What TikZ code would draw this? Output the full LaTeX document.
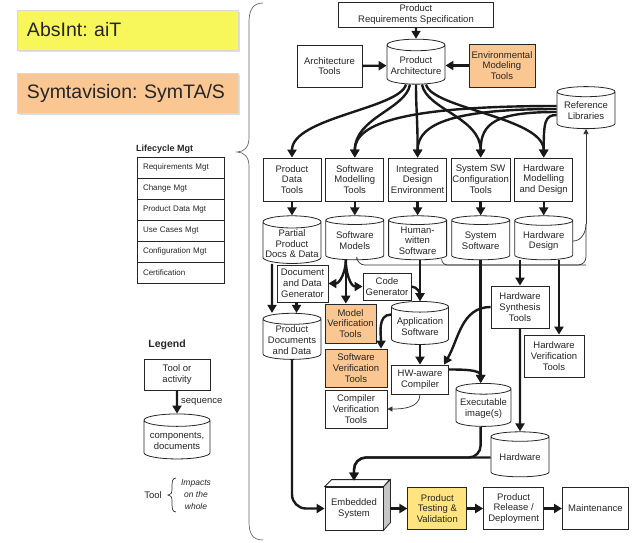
\documentclass[tikz,border=0pt]{standalone}
\usepackage{fontspec}
\setmainfont{Liberation Sans}
\usetikzlibrary{arrows.meta, positioning, shapes.geometric, shadows}
\newcommand{\df}{\fontsize{9.5}{10.8}\selectfont}
\definecolor{toolorange}{HTML}{FAC793}
\definecolor{aityellow}{HTML}{F7F65A}
\definecolor{testyellow}{HTML}{FFE480}
\frenchspacing

\begin{document}
\begin{tikzpicture}[x=1pt, y=1pt, >={Triangle[length=8pt,width=9pt]}, node distance=4pt,
  every node/.style={font=\df, text=black!85, align=center, inner sep=1pt},
  tool/.style={draw=black!85, line width=0.8pt, rectangle, fill=white, minimum width=58pt, minimum height=43pt},
  store/.style={draw=black!85, line width=0.8pt, cylinder, shape border rotate=90, aspect=0.22, fill=white, minimum width=58pt, minimum height=44pt},
  hot/.style={fill=toolorange},
  vendor/.style={draw=black!15, minimum width=221pt, minimum height=40pt, text width=201pt, inner xsep=10pt, align=left, font=\fontsize{19.5}{22}\selectfont, drop shadow={opacity=0.25, shadow xshift=1.5pt, shadow yshift=-1.5pt}},
  lcrow/.style={draw=black!85, line width=0.6pt, minimum width=87pt, minimum height=21pt, text width=75pt, align=left, font=\fontsize{8}{9}\selectfont},
  flow/.style={->, line width=2.4pt, black!90},
  thinflow/.style={-{Triangle[length=5pt,width=5pt]}, line width=0.7pt, black!80},
  thinline/.style={line width=0.7pt, black!80}]
\useasboundingbox (0,0) rectangle (642,-542);

% Vendors
\node (absint) [vendor, fill=aityellow] at (127.5,-30) {AbsInt: aiT};
\node (symta) [vendor, fill=toolorange] at (127.5,-93) {Symtavision: SymTA/S};

% Lifecycle management
\node (lctitle) [anchor=west, font=\bfseries\fontsize{9}{10}\selectfont] at (135,-149) {Lifecycle Mgt};
\foreach \lab [count=\i from 0] in {Requirements Mgt, Change Mgt, Product Data Mgt, Use Cases Mgt, Configuration Mgt, Certification}
  \node (lc\i) [lcrow] at (180.5,{-167.5-21*\i}) {\lab};

% Legend
\node (legtitle) [font=\bfseries\fontsize{10.5}{12}\selectfont] at (167,-345) {Legend};
\node (legtool) [tool, minimum width=66pt, minimum height=31pt, font=\fontsize{9.5}{11}\selectfont] at (177,-374.5) {Tool or\\activity};
\node (legstore) [store, minimum width=66pt, minimum height=45pt, font=\fontsize{9.5}{11}\selectfont] at (177,-440.5) {components,\\documents};
\draw[flow] (legtool) -- (legstore) node[midway, right, inner sep=3pt, font=\fontsize{9.5}{11}\selectfont] {sequence};
\node (legtxt) [font=\fontsize{9.5}{11}\selectfont] at (153,-495) {Tool};
\node (impacts) [font=\itshape\fontsize{8.5}{12}\selectfont] at (196,-495) {Impacts\\on the\\whole};
\draw[thinline] (176,-478) .. controls (172,-478) and (172,-482) .. (172,-489)
  .. controls (172,-493) and (171,-495) .. (168,-495)
  .. controls (171,-495) and (172,-497) .. (172,-501)
  .. controls (172,-508) and (172,-512) .. (176,-512);

% Big brace
\draw[thinline, black!60] (263,-3) .. controls (253,-3) and (249,-10) .. (249,-22) -- (249,-138)
  .. controls (249,-147) and (244,-152) .. (237,-152)
  .. controls (244,-152) and (249,-157) .. (249,-166) -- (249,-522)
  .. controls (249,-534) and (253,-540) .. (263,-540);

% Top
\node (req) [tool, minimum width=155pt, minimum height=25pt] at (416,-14.5) {Product\\Requirements Specification};
\node (archt) [tool, minimum width=65pt, minimum height=42pt] at (329.5,-66) {Architecture\\Tools};
\node (parch) [store, minimum height=45pt] at (416,-65.5) {Product\\Architecture};
\node (envm) [tool, hot, minimum width=66pt] at (502,-65.5) {Environmental\\Modeling\\Tools};
\node (refl) [store, minimum height=42pt] at (586,-111) {Reference\\Libraries};

% Tools row
\node (pdt) [tool] at (292,-179.5) {Product\\Data\\Tools};
\node (smt) [tool, right=of pdt] {Software\\Modelling\\Tools};
\node (ide) [tool, right=of smt] {Integrated\\Design\\Environment};
\node (sswc) [tool, right=of ide] {System SW\\Configuration\\Tools};
\node (hwmd) [tool, right=of sswc] {Hardware\\Modelling\\and Design};

% Stores row
\node (ppdd) [store, below=14pt of pdt] {Partial\\Product\\Docs \& Data};
\node (swm) [store, below=14pt of smt] {Software\\Models};
\node (hws) [store, below=14pt of ide] {Human-\\witten\\Software};
\node (syss) [store, below=14pt of sswc] {System\\Software};
\node (hwd) [store, below=14pt of hwmd] {Hardware\\Design};

% Middle
\node (ddg) [tool, minimum width=51pt, minimum height=37pt] at (302.5,-283.5) {Document\\and Data\\Generator};
\node (cg) [tool, minimum width=48pt, minimum height=27pt] at (387,-286.5) {Code\\Generator};
\node (hst) [tool, minimum height=42pt] at (520,-307) {Hardware\\Synthesis\\Tools};
\node (pdd) [store] at (292,-340) {Product\\Documents\\and Data};
\node (mvt) [tool, hot, minimum width=51pt, minimum height=39pt] at (350.5,-323.5) {Model\\Verification\\Tools};
\node (appsw) [store, minimum width=57pt, minimum height=43pt] at (420,-326.5) {Application\\Software};
\node (svt) [tool, hot, minimum width=62pt, minimum height=38pt] at (356,-368) {Software\\Verification\\Tools};
\node (hwac) [tool, minimum width=57pt, minimum height=29pt] at (420,-379.5) {HW-aware\\Compiler};
\node (hvt) [tool, minimum width=60pt, minimum height=42pt] at (554,-356) {Hardware\\Verification\\Tools};
\node (cvt) [tool, minimum width=62pt, minimum height=38pt] at (356,-409) {Compiler\\Verification\\Tools};
\node (exe) [store, minimum width=55pt, minimum height=43pt] at (483.5,-408.5) {Executable\\image(s)};
\node (hw) [store, minimum height=45pt] at (520,-457.5) {Hardware};

% Bottom
\node (emb) [tool] at (354,-508.5) {Embedded\\System};
\fill[gray!45, draw=black!85, line width=0.8pt] (emb.north east) -- ++(7,7) -- ++(0,-43) -- (emb.south east) -- cycle;
\filldraw[fill=white, draw=black!85, line width=0.8pt] (emb.north west) -- ++(7,7) -- ++(58,0) -- (emb.north east) -- cycle;
\node (ptv) [tool, fill=testyellow, minimum width=59pt, minimum height=42pt, right=24pt of emb] {Product\\Testing \&\\Validation};
\node (prd) [tool, minimum width=60pt, minimum height=42pt, right=16pt of ptv] {Product\\Release /\\Deployment};
\node (mnt) [tool, minimum width=66pt, minimum height=42pt, right=18pt of prd] {Maintenance};

% Edges: architecture
\foreach \src in {req, archt, envm}
  {\draw[flow] (\src) -- (parch);}
\foreach \dst/\s/\o in {pdt/-10/-105, smt/-6/-100, ide/0/-90, sswc/6/-80, hwmd/10/-75}
  {\draw[flow] ([xshift=\s]parch.south) to[out=\o, in=90, out distance=25, in distance=40] (\dst.north);}
\foreach \dst/\s/\d in {smt/5/150, ide/2/100, sswc/-1/60, hwmd/-4/12}
  {\draw[flow] ([yshift=\s]refl.west) to[out=180, in=90, out distance=\d, in distance=35] (\dst.north);}
% Edges: tools to stores
\foreach \src/\dst in {pdt/ppdd, smt/swm, ide/hws, sswc/syss, hwmd/hwd}
  {\draw[flow] (\src) -- (\dst);}
% Edges: back to the libraries
\coordinate (libjoin) at (586,-224);
\coordinate (libbase) at (586,-265);
\draw[thinflow] (libjoin) -- (refl.south);
\draw[thinline] (hwd.east) to[out=0, in=-90] (libjoin);
\draw[thinline, rounded corners=8pt] ([xshift=2]swm.south) |- (libbase) -- (libjoin);
\draw[thinline, rounded corners=6pt] ([xshift=24]hws.south) |- (libbase);
% Edges: software side
\draw[flow] ([xshift=-20]ppdd.south) -- ([xshift=-20]pdd.north);
\draw[flow] ([xshift=-6]ddg.south) -- ([xshift=-6]ddg.south |- pdd.north);
\draw[flow] ([xshift=-9]swm.south) to[out=-90, in=0] (ddg.east);
\draw[flow] ([xshift=-9]swm.south) -- ([xshift=-9]swm.south |- mvt.north);
\draw[flow] ([xshift=-9]swm.south) to[out=-90, in=180] (cg.west);
\draw[flow] (hws.south -| appsw.north) -- (appsw.north);
\draw[flow] (cg.east) to[out=0, in=90] (appsw.north);
\draw[flow] ([yshift=12]appsw.west) to[out=180, in=90] ([xshift=25]svt.north);
\draw[flow] (appsw) -- (hwac);
\draw[flow] (hst.west) to[out=180, in=60] ([xshift=24]hwac.north);
\draw[flow] (syss.south) -- (syss.south |- exe.north);
\draw[flow] ([yshift=10]hwac.east) to[out=0, in=90] (syss.south |- exe.north);
\draw[thinflow] (hwac.south) to[out=-90, in=0] (cvt.east);
% Edges: hardware side
\draw[flow] (hst.north |- hwd.south) -- (hst.north);
\draw[flow] ([xshift=5]hvt.north |- hwd.south) -- ([xshift=5]hvt.north);
\draw[flow] (hst) -- (hw);
% Edges: integration
\draw[flow, rounded corners=12pt] (syss.south |- exe.south) |- (emb.north |- hw.west) -- ([yshift=6]emb.north);
\draw[flow, rounded corners=12pt] (hw.west) -| ([yshift=6]emb.north);
\draw[flow, rounded corners=14pt] (pdd.south) |- (emb.west);
\draw[flow] ([xshift=7]emb.east) -- (ptv.west);
\draw[flow] (ptv) -- (prd);
\draw[flow] (prd) -- (mnt);
\end{tikzpicture}
\end{document}
